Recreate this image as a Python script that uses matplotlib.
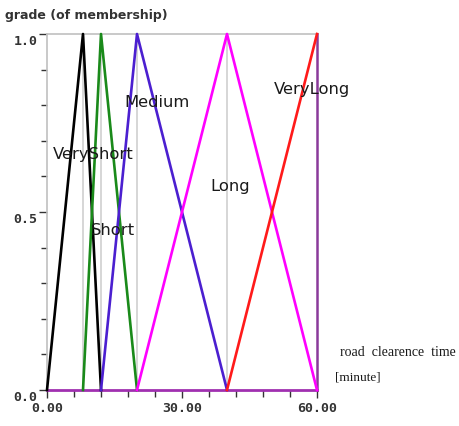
import matplotlib
matplotlib.use("Agg")
import matplotlib.pyplot as plt
from matplotlib.ticker import MultipleLocator, FixedLocator

# Fuzzy sets: (name, left, peak, right)
set_names = ["VeryShort", "Short", "Medium", "Long", "VeryLong"]
set_left = [0, 8, 12, 20, 40]
set_peak = [8, 12, 20, 40, 60]
set_right = [12, 20, 40, 60, 60]
set_colors = ["#000000", "#1a8a1a", "#4b1fd0", "#ff00ff", "#ff1a1a"]
label_x = [10.2, 14.6, 24.5, 40.8, 59.0]
label_y = [0.665, 0.45, 0.81, 0.575, 0.848]

x_major = [0, 30, 60]
x_major_labels = ["0.00", "30.00", "60.00"]
y_major = [0.0, 0.5, 1.0]
y_major_labels = ["0.0", "0.5", "1.0"]
grid_x = [8, 12, 20, 40]

fig = plt.figure(figsize=(4.6, 4.27), dpi=100)
ax = fig.add_axes([47/460, 1-391/427, 270/460, 356/427])
ax.set_xlim(0, 60)
ax.set_ylim(0, 1)

for gx in grid_x:
    ax.plot([gx, gx], [0, 1], color="#cfcfcf", lw=1.2, zorder=1)

for name, a, b, c, col in zip(set_names, set_left, set_peak, set_right, set_colors):
    if c > b:
        ax.plot([a, b, c], [0, 1, 0], color=col, lw=1.9, zorder=3, clip_on=False)
    else:
        ax.plot([a, b], [0, 1], color=col, lw=1.9, zorder=3, clip_on=False)

for name, lx, ly in zip(set_names, label_x, label_y):
    ax.text(lx, ly, name, ha="center", va="center", fontsize=11.8,
            color="#1a1a1a", family="DejaVu Sans", zorder=5)

for s in ["left", "top"]:
    ax.spines[s].set_color("#c0c0c0")
    ax.spines[s].set_linewidth(1.2)
ax.spines["right"].set_color("#8a3a9a")
ax.spines["right"].set_linewidth(1.8)
ax.spines["bottom"].set_color("#a030b0")
ax.spines["bottom"].set_linewidth(2.0)

ax.xaxis.set_major_locator(FixedLocator(x_major))
ax.set_xticklabels(x_major_labels, family="DejaVu Sans Mono", fontweight="bold",
                   fontsize=9.5, color="#333333")
ax.xaxis.set_minor_locator(MultipleLocator(6))
ax.yaxis.set_major_locator(FixedLocator(y_major))
ax.set_yticklabels(y_major_labels, family="DejaVu Sans Mono", fontweight="bold",
                   fontsize=9.5, color="#333333")
ax.yaxis.set_minor_locator(MultipleLocator(0.1))
ax.tick_params(axis="x", which="major", length=6, width=1, color="#333333", pad=2)
ax.tick_params(axis="x", which="minor", length=5, width=1, color="#333333")
ax.tick_params(axis="y", which="major", length=6, width=1, color="#333333", pad=1)
ax.tick_params(axis="y", which="minor", length=4, width=1, color="#333333")
for lab in ax.get_yticklabels():
    lab.set_verticalalignment("top")

fig.text(5/460, 1-15/427, "grade (of membership)", fontsize=9, fontweight="bold",
         color="#333333", ha="left", va="center", family="DejaVu Sans Condensed")
fig.text(340/460, 1-352/427, "road  clearence  time", fontsize=10,
         color="#1a1a1a", ha="left", va="center", family="Liberation Serif")
fig.text(335/460, 1-378/427, "[minute]", fontsize=9.5,
         color="#1a1a1a", ha="left", va="center", family="Liberation Serif")

fig.savefig("out.png", dpi=100)
